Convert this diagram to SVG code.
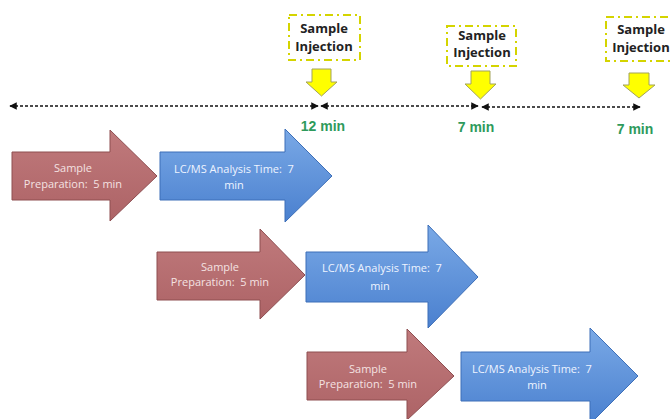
<svg xmlns="http://www.w3.org/2000/svg" width="671" height="419" viewBox="0 0 671 419">
<defs>
<linearGradient id="gRed" x1="0" y1="0" x2="0" y2="1">
<stop offset="0" stop-color="#c07a7c"/><stop offset="1" stop-color="#ad6366"/>
</linearGradient>
<linearGradient id="gBlue" x1="0" y1="0" x2="0" y2="1">
<stop offset="0" stop-color="#7aa9e6"/><stop offset="1" stop-color="#4a80cf"/>
</linearGradient>
<marker id="ah" viewBox="0 0 10 10" refX="9" refY="5" markerWidth="5" markerHeight="5" orient="auto-start-reverse">
<path d="M0,0 L10,5 L0,10 z" fill="#111"/>
</marker>
</defs>
<style>
text{white-space:pre}
.red{fill:url(#gRed);stroke:#8e4e51;stroke-width:1}
.blue{fill:url(#gBlue);stroke:#3d6fb8;stroke-width:1}
.at{font-family:"Open Sans","Liberation Sans",sans-serif;font-size:11px;fill:#f4e2e2;text-anchor:middle}
.bt{font-family:"Open Sans","Liberation Sans",sans-serif;font-size:11px;fill:#eef4ff;text-anchor:middle}
.inj{fill:#fff;stroke:#d4d400;stroke-width:2;stroke-dasharray:8,4,2,4}
.it{font-family:"Open Sans","Liberation Sans",sans-serif;font-size:13px;font-weight:bold;fill:#222;text-anchor:middle}
.ya{fill:#ffff00;stroke:#a3a35a;stroke-width:1}
.gt{font-family:"Liberation Sans",Arial,sans-serif;font-size:14px;font-weight:bold;fill:#2e9a5c;text-anchor:middle}
.dl{stroke:#111;stroke-width:1.5;stroke-dasharray:3,2;fill:none}
</style>
<g id="connectors">
<line class="dl" x1="10" y1="106" x2="318" y2="106" marker-start="url(#ah)" marker-end="url(#ah)"/>
<line class="dl" x1="321" y1="106" x2="478" y2="106" marker-start="url(#ah)" marker-end="url(#ah)"/>
<line class="dl" x1="482" y1="107" x2="640" y2="107" marker-start="url(#ah)" marker-end="url(#ah)"/>
</g>
<g id="inj1">
<rect class="inj" x="289" y="15" width="71" height="45"/>
<text class="it" x="324" y="33">Sample</text>
<text class="it" x="324" y="51">Injection</text>
<path class="ya" d="M312,69 H331 V82 H337 L321.5,96 L306,82 H312 Z"/>
</g>
<g id="inj2">
<rect class="inj" x="447" y="26" width="69" height="40"/>
<text class="it" x="482" y="40">Sample</text>
<text class="it" x="482" y="57">Injection</text>
<path class="ya" d="M471,71 H490 V84 H496 L480.5,99 L465,84 H471 Z"/>
</g>
<g id="inj3">
<rect class="inj" x="606" y="17" width="70" height="44"/>
<text class="it" x="641" y="34">Sample</text>
<text class="it" x="641" y="52">Injection</text>
<path class="ya" d="M629,73 H649 V85 H655 L639,98 L623,85 H629 Z"/>
</g>
<g id="t1"><text class="gt" x="323" y="131">12 min</text></g>
<g id="t2"><text class="gt" x="476" y="132">7 min</text></g>
<g id="t3"><text class="gt" x="635" y="134">7 min</text></g>
<g id="prep1">
<path class="red" d="M12,152 H110 V130 L157,176 L110,221 V200 H12 Z"/>
<text class="at" x="73" y="172">Sample</text>
<text class="at" x="73" y="188">Preparation:  5 min</text>
</g>
<g id="lcms1">
<path class="blue" d="M160,152 H285 V129 L332,176 L285,222 V200 H160 Z"/>
<text class="bt" x="234" y="173">LC/MS Analysis Time:  7</text>
<text class="bt" x="234" y="189">min</text>
</g>
<g id="prep2">
<path class="red" d="M157,252 H260 V229 L305,275 L260,319 V300 H157 Z"/>
<text class="at" x="220" y="271">Sample</text>
<text class="at" x="220" y="286">Preparation:  5 min</text>
</g>
<g id="lcms2">
<path class="blue" d="M306,252 H428 V225 L478,277 L428,328 V302 H306 Z"/>
<text class="bt" x="382" y="272">LC/MS Analysis Time:  7</text>
<text class="bt" x="380" y="290">min</text>
</g>
<g id="prep3">
<path class="red" d="M307,352 H407 V329 L454,376 L407,420 V400 H307 Z"/>
<text class="at" x="368" y="373">Sample</text>
<text class="at" x="368" y="388">Preparation:  5 min</text>
</g>
<g id="lcms3">
<path class="blue" d="M461,352 H590 V328 L638,376 L590,424 V401 H461 Z"/>
<text class="bt" x="532" y="373">LC/MS Analysis Time:  7</text>
<text class="bt" x="537" y="389">min</text>
</g>
</svg>
